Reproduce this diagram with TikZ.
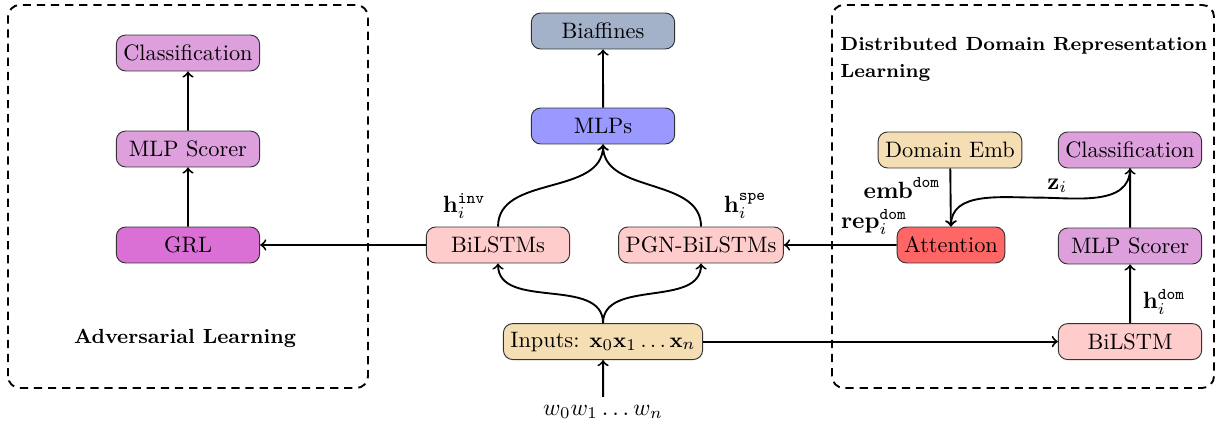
\documentclass[tikz,border=0pt]{standalone}
\usepackage[no-math]{fontspec}
\usepackage{amsmath}
\usepackage{amssymb}

\definecolor{plumfill}{HTML}{DDA0DD}
\definecolor{orchidfill}{HTML}{DA70D6}
\definecolor{wheatfill}{HTML}{F5DEB3}
\definecolor{lstmfill}{HTML}{FFCCCC}
\definecolor{attfill}{HTML}{FF6666}
\definecolor{mlpfill}{HTML}{9999FF}
\definecolor{biaffill}{HTML}{A3B1C9}

\tikzset{
    block/.style={draw=black!80, rounded corners=4pt, minimum height=15.3pt, inner xsep=3pt, inner ysep=0pt, font=\fontsize{9.5}{11.5}\selectfont},
    wideblock/.style={block, minimum width=61pt},
    conn/.style={->, thick},
    region/.style={thick, dash pattern=on 3.5pt off 2.5pt, rounded corners=5pt},
    lbl/.style={inner sep=1pt},
    heading/.style={font=\fontsize{8.7}{11.5}\selectfont\bfseries},
}

\begin{document}
\begin{tikzpicture}[scale=0.598]
                \useasboundingbox (0,0) rectangle (30.425,10.65);
                
                % dashed regions
                \draw[region] (0.2,0.95) rectangle (9.2,10.525);
                \draw[region] (20.8,0.95) rectangle (30.35,10.525);
                
                % main parser
                \node[wideblock, fill=biaffill] (biaf) at (15.075,9.875) {Biaffines};
                \node[wideblock, fill=mlpfill] (mlps) at (15.075,7.5) {MLPs};
                \node[wideblock, fill=lstmfill] (bilstms) at (12.45,4.525) {BiLSTMs};
                \node[block, fill=lstmfill] (pgn) at (17.525,4.525) {PGN-BiLSTMs};
                \node[block, fill=wheatfill] (inputs) at (15.075,2.11) {Inputs: $\mathbf{x}_0\mathbf{x}_1\ldots\mathbf{x}_n$};
                \node (words) at (15.075,0.35) {$w_0w_1\ldots w_n$};
                
                % adversarial part
                \node[wideblock, fill=plumfill] (clsL) at (4.7,9.325) {Classification};
                \node[wideblock, fill=plumfill] (mlpL) at (4.7,6.925) {MLP Scorer};
                \node[wideblock, fill=orchidfill] (grl) at (4.7,4.525) {GRL};
                \node[heading] (advtitle) at (4.625,2.2) {Adversarial Learning};
                
                % domain representation part
                \node[heading, font=\fontsize{8.1}{11.5}\selectfont\bfseries, anchor=north west, align=left, inner sep=0pt] (domtitle) at (21.0,9.72) {Distributed Domain Representation\\Learning};
                \node[wideblock, fill=wheatfill] (demb) at (23.75,6.9) {Domain Emb};
                \node[wideblock, fill=plumfill] (clsR) at (28.25,6.9) {Classification};
                \node[block, fill=attfill] (att) at (23.775,4.525) {Attention};
                \node[wideblock, fill=plumfill] (mlpR) at (28.25,4.5) {MLP Scorer};
                \node[wideblock, fill=lstmfill] (bilstmR) at (28.25,2.11) {BiLSTM};
                
                % labels
                \node[lbl] (hinv) at (11.6,5.5) {$\mathbf{h}_i^{\texttt{inv}}$};
                \node[lbl] (hspe) at (18.625,5.5) {$\mathbf{h}_i^{\texttt{spe}}$};
                \node[lbl] (embdom) at (22.55,5.95) {$\mathbf{emb}^{\texttt{dom}}$};
                \node[lbl] (repdom) at (21.85,5.1) {$\mathbf{rep}_i^{\texttt{dom}}$};
                \node[lbl] (zi) at (26.43,6.0) {$\mathbf{z}_i$};
                \node[lbl] (hdom) at (29.1,3.1) {$\mathbf{h}_i^{\texttt{dom}}$};
                
                % connectors
                \draw[conn] (words) -- (inputs);
                \draw[conn] (inputs.north) to[out=90,in=-90] (bilstms.south);
                \draw[conn] (inputs.north) to[out=90,in=-90] (pgn.south);
                \draw[conn] (bilstms.north) to[out=90,in=-90] (mlps.south);
                \draw[conn] (pgn.north) to[out=90,in=-90] (mlps.south);
                \draw[conn] (mlps) -- (biaf);
                \draw[conn] (bilstms) -- (grl);
                \draw[conn] (grl) -- (mlpL);
                \draw[conn] (mlpL) -- (clsL);
                \draw[conn] (inputs) -- (bilstmR);
                \draw[conn] (bilstmR) -- (mlpR);
                \draw[conn] (mlpR) -- (clsR);
                \draw[conn] (demb) -- (att);
                \draw[conn] (att) -- (pgn);
                \coordinate (zmid) at (25.9,5.71);
                \draw[conn] (clsR.south) to[out=-90,in=0] (zmid) to[out=180,in=90] (att.north);
            \end{tikzpicture}
\end{document}
